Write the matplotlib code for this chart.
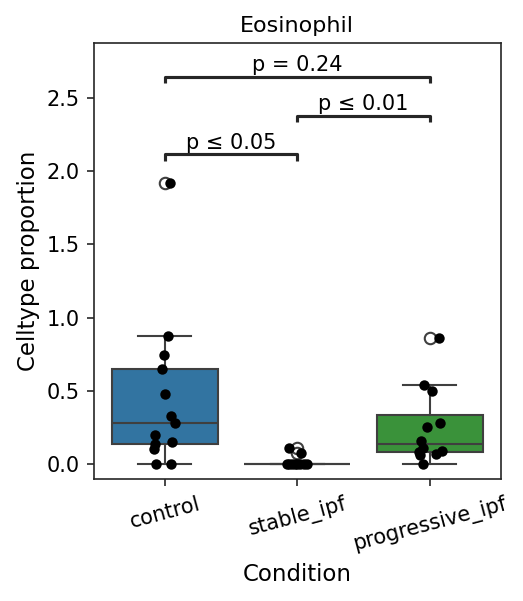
import matplotlib

matplotlib.use("Agg")
import matplotlib.pyplot as plt
import numpy as np

conditions = ["control", "stable_ipf", "progressive_ipf"]

control = [0.0, 0.0, 0.107, 0.136, 0.154, 0.199, 0.279, 0.328, 0.48, 0.65, 0.745, 0.876, 1.916]
stable_ipf = [0.0, 0.0, 0.0, 0.0, 0.0, 0.0, 0.0, 0.0, 0.079, 0.113]
progressive_ipf = [0.0, 0.063, 0.073, 0.086, 0.090, 0.113, 0.158, 0.256, 0.279, 0.498, 0.539, 0.861]

# horizontal jitter (category units)
jitter_control = [-0.068, 0.043, -0.08, -0.075, 0.055, -0.075, 0.08, 0.045, 0.0, -0.025, -0.005, 0.025, 0.04]
jitter_stable = [-0.08, -0.06, -0.04, -0.02, 0.0, 0.02, 0.05, 0.07, 0.028, -0.06]
jitter_progressive = [-0.055, -0.075, 0.05, -0.08, 0.093, -0.055, -0.063, -0.025, 0.075, 0.013, -0.043, 0.068]

pairs = [(0, 1), (1, 2), (0, 2)]
pair_labels = ["p \u2264 0.05", "p \u2264 0.01", "p = 0.24"]
pair_heights = [2.114, 2.377, 2.643]

box_colors = ["#3274a1", "#e1812c", "#3a923a"]
line_color = "#3f3f3f"

fig = plt.figure(figsize=(523 / 150, 601 / 150), dpi=150)
ax = fig.add_axes([94 / 523, 1 - 479 / 601, (500.7 - 94) / 523, (479 - 42.7) / 601])

groups = [control, stable_ipf, progressive_ipf]
jitters = [jitter_control, jitter_stable, jitter_progressive]

bp = ax.boxplot(
    groups,
    positions=range(len(groups)),
    widths=0.8,
    capwidths=0.4,
    whis=1.5,
    patch_artist=True,
    boxprops=dict(edgecolor=line_color, linewidth=1.0),
    medianprops=dict(color=line_color, linewidth=1.0),
    whiskerprops=dict(color=line_color, linewidth=1.0),
    capprops=dict(color=line_color, linewidth=1.0),
    flierprops=dict(marker="o", markerfacecolor="none", markeredgecolor=line_color,
                    markersize=5.5, markeredgewidth=1.0),
    zorder=2,
)
for patch, c in zip(bp["boxes"], box_colors):
    patch.set_facecolor(c)

for i, (vals, jit) in enumerate(zip(groups, jitters)):
    ax.scatter(np.array(jit) + i, vals, s=25, color="black", linewidths=0, zorder=3)

# significance brackets
tick = 0.045
for (a, b), lab, h in zip(pairs, pair_labels, pair_heights):
    ax.plot([a, a, b, b], [h - tick, h, h, h - tick], color="#262626", lw=1.5,
            solid_capstyle="butt", clip_on=False, zorder=4)
    ax.text((a + b) / 2, h + 0.012, lab, ha="center", va="bottom", fontsize=10)

ax.set_xlim(-0.535, 2.535)
ax.set_ylim(-0.1, 2.875)
ax.set_yticks([0.0, 0.5, 1.0, 1.5, 2.0, 2.5])
ax.set_xticks(range(len(conditions)))
ax.set_xticklabels(conditions, rotation=15, fontsize=10)
ax.tick_params(axis="y", labelsize=10)
for s in ax.spines.values():
    s.set_color("#262626")
ax.tick_params(colors="#262626", labelcolor="black")

ax.set_xlabel("Condition", fontsize=11)
ax.set_ylabel("Celltype proportion", fontsize=11, labelpad=3)
ax.set_title("Eosinophil", fontsize=10.7, pad=5)

fig.savefig("out.png", dpi=150)
